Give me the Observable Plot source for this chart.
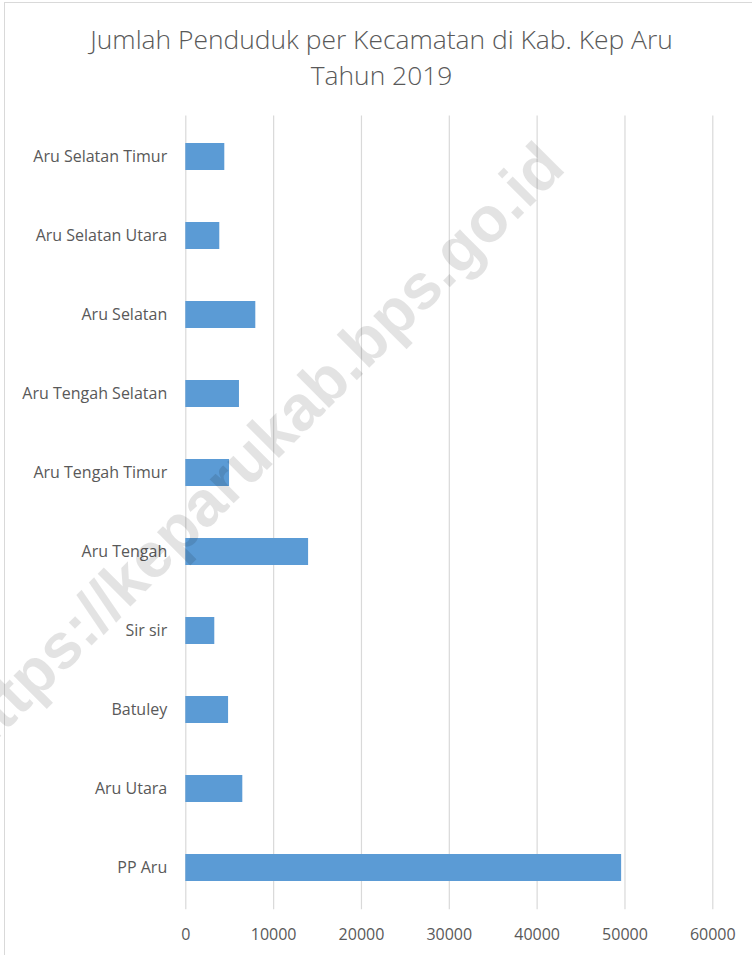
<!DOCTYPE html>
<html>
<head>
<meta charset="utf-8">
<script src="https://cdn.jsdelivr.net/npm/d3@7"></script>
<script src="https://cdn.jsdelivr.net/npm/@observablehq/plot@0.6"></script>
<style>
  html, body { margin: 0; padding: 0; background: #fff; overflow: hidden; width: 752px; height: 955px; }
  #frame { position: absolute; left: 4px; top: 2px; width: 800px; height: 1000px; border: 1px solid #d9d9d9; box-sizing: border-box; }
  #wrap { position: absolute; left: 0; top: 0; width: 752px; height: 955px; }
  #title { height: 110px; box-sizing: border-box; padding-top: 21px; padding-left: 11px; text-align: center; font-family: "Open Sans", sans-serif; font-weight: 300; font-size: 26.4px; color: #595959; }
  #title div { height: 36px; line-height: 36px; white-space: nowrap; }
  #chart svg { display: block; }
  #wm { position: absolute; left: 0; top: 0; width: 752px; height: 955px; pointer-events: none; overflow: hidden; }
</style>
</head>
<body>
<div id="frame"></div>
<div id="wrap">
  <div id="title"><div>Jumlah Penduduk per Kecamatan di Kab. Kep Aru</div><div>Tahun 2019</div></div>
  <div id="chart"></div>
</div>
<svg id="wm" width="752" height="955"><text x="272" y="465" text-anchor="middle" transform="rotate(-45 272 465)" font-family="'Liberation Sans', Arial, sans-serif" font-weight="bold" font-size="64" fill="#000" fill-opacity="0.11">https://keparukab.bps.go.id</text></svg>
<script>
const kecamatan = ["Aru Selatan Timur", "Aru Selatan Utara", "Aru Selatan", "Aru Tengah Selatan", "Aru Tengah Timur", "Aru Tengah", "Sir sir", "Batuley", "Aru Utara", "PP Aru"];
const penduduk = [4440, 3870, 7970, 6110, 4980, 13980, 3300, 4870, 6490, 49620];
const xTicks = [0, 10000, 20000, 30000, 40000, 50000, 60000];

const data = kecamatan.map((k, i) => ({kecamatan: k, penduduk: penduduk[i]}));

const chart = Plot.plot({
  width: 752,
  height: 845,
  marginLeft: 185.3,
  marginRight: 39.7,
  marginTop: 5.6,
  marginBottom: 45.8,
  style: {fontFamily: "'Open Sans', sans-serif", color: "#595959", background: "transparent"},
  x: {domain: [0, 60000], ticks: xTicks},
  y: {domain: kecamatan, paddingInner: 0.652, paddingOuter: 0.326},
  marks: [
    Plot.gridX(xTicks, {stroke: "#d9d9d9", strokeOpacity: 1, strokeWidth: 1.2}),
    Plot.barX(data, {x: "penduduk", y: "kecamatan", fill: "#5b9bd5"}),
    Plot.axisX({ticks: xTicks, tickSize: 0, tickPadding: 19, tickFormat: d => String(d), fontSize: 16, fill: "#595959", label: null}),
    Plot.axisY({tickSize: 0, tickPadding: 18.6, fontSize: 16, fill: "#595959", label: null})
  ]
});
document.getElementById("chart").appendChild(chart);
</script>
</body>
</html>
